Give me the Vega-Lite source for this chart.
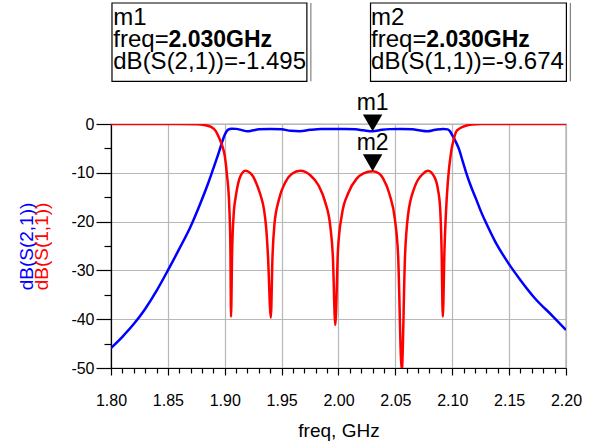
{
  "$schema": "https://vega.github.io/schema/vega-lite/v6.json",
  "width": 455,
  "height": 244,
  "autosize": {"type": "none"},
  "padding": {"left": 111, "top": 124, "right": 26, "bottom": 75},
  "background": "white",
  "config": {
    "font": "Liberation Sans",
    "view": {"stroke": "#555555", "strokeWidth": 1.2},
    "axis": {
      "labelFont": "Liberation Sans",
      "labelFontSize": 16,
      "labelColor": "black",
      "tickColor": "black",
      "domainColor": "black",
      "domainWidth": 1.2,
      "tickWidth": 1.2,
      "gridColor": "#b8b8b8",
      "gridWidth": 1.2,
      "titleFont": "Liberation Sans",
      "titleFontWeight": "normal",
      "titleColor": "black"
    }
  },
  "datasets": {
    "curves": [
      {"f": 1.800, "db": -45.9, "s": "S21"},
      {"f": 1.810, "db": -43.6, "s": "S21"},
      {"f": 1.820, "db": -41.0, "s": "S21"},
      {"f": 1.830, "db": -37.9, "s": "S21"},
      {"f": 1.840, "db": -34.2, "s": "S21"},
      {"f": 1.850, "db": -30.0, "s": "S21"},
      {"f": 1.860, "db": -25.6, "s": "S21"},
      {"f": 1.870, "db": -21.0, "s": "S21"},
      {"f": 1.878, "db": -16.6, "s": "S21"},
      {"f": 1.885, "db": -12.4, "s": "S21"},
      {"f": 1.890, "db": -9.1, "s": "S21"},
      {"f": 1.894, "db": -6.4, "s": "S21"},
      {"f": 1.897, "db": -4.2, "s": "S21"},
      {"f": 1.900, "db": -2.2, "s": "S21"},
      {"f": 1.903, "db": -1.15, "s": "S21"},
      {"f": 1.906, "db": -0.95, "s": "S21"},
      {"f": 1.910, "db": -1.0, "s": "S21"},
      {"f": 1.915, "db": -1.25, "s": "S21"},
      {"f": 1.920, "db": -1.5, "s": "S21"},
      {"f": 1.925, "db": -1.3, "s": "S21"},
      {"f": 1.930, "db": -1.1, "s": "S21"},
      {"f": 1.940, "db": -1.0, "s": "S21"},
      {"f": 1.950, "db": -1.1, "s": "S21"},
      {"f": 1.958, "db": -1.4, "s": "S21"},
      {"f": 1.966, "db": -1.5, "s": "S21"},
      {"f": 1.975, "db": -1.2, "s": "S21"},
      {"f": 1.985, "db": -1.0, "s": "S21"},
      {"f": 1.995, "db": -1.0, "s": "S21"},
      {"f": 2.005, "db": -1.0, "s": "S21"},
      {"f": 2.015, "db": -1.1, "s": "S21"},
      {"f": 2.022, "db": -1.3, "s": "S21"},
      {"f": 2.030, "db": -1.495, "s": "S21"},
      {"f": 2.038, "db": -1.2, "s": "S21"},
      {"f": 2.045, "db": -1.05, "s": "S21"},
      {"f": 2.055, "db": -1.0, "s": "S21"},
      {"f": 2.065, "db": -1.1, "s": "S21"},
      {"f": 2.072, "db": -1.35, "s": "S21"},
      {"f": 2.078, "db": -1.5, "s": "S21"},
      {"f": 2.085, "db": -1.2, "s": "S21"},
      {"f": 2.092, "db": -1.0, "s": "S21"},
      {"f": 2.096, "db": -1.1, "s": "S21"},
      {"f": 2.098, "db": -1.5, "s": "S21"},
      {"f": 2.100, "db": -2.3, "s": "S21"},
      {"f": 2.103, "db": -3.6, "s": "S21"},
      {"f": 2.106, "db": -5.2, "s": "S21"},
      {"f": 2.109, "db": -7.5, "s": "S21"},
      {"f": 2.112, "db": -9.8, "s": "S21"},
      {"f": 2.116, "db": -12.5, "s": "S21"},
      {"f": 2.121, "db": -15.4, "s": "S21"},
      {"f": 2.125, "db": -17.8, "s": "S21"},
      {"f": 2.130, "db": -20.4, "s": "S21"},
      {"f": 2.138, "db": -24.2, "s": "S21"},
      {"f": 2.149, "db": -28.4, "s": "S21"},
      {"f": 2.160, "db": -32.0, "s": "S21"},
      {"f": 2.173, "db": -35.8, "s": "S21"},
      {"f": 2.188, "db": -39.3, "s": "S21"},
      {"f": 2.200, "db": -42.2, "s": "S21"},
      {"f": 1.800, "db": 0, "s": "S11"},
      {"f": 1.860, "db": 0, "s": "S11"},
      {"f": 1.875, "db": -0.05, "s": "S11"},
      {"f": 1.882, "db": -0.2, "s": "S11"},
      {"f": 1.888, "db": -0.6, "s": "S11"},
      {"f": 1.892, "db": -1.4, "s": "S11"},
      {"f": 1.895, "db": -2.8, "s": "S11"},
      {"f": 1.8975, "db": -4.3, "s": "S11"},
      {"f": 1.900, "db": -6.5, "s": "S11"},
      {"f": 1.902, "db": -10.5, "s": "S11"},
      {"f": 1.904, "db": -17, "s": "S11"},
      {"f": 1.905, "db": -26, "s": "S11"},
      {"f": 1.9055, "db": -39.5, "s": "S11"},
      {"f": 1.9065, "db": -26, "s": "S11"},
      {"f": 1.908, "db": -18, "s": "S11"},
      {"f": 1.9096, "db": -15.0, "s": "S11"},
      {"f": 1.9125, "db": -11.5, "s": "S11"},
      {"f": 1.9155, "db": -10.0, "s": "S11"},
      {"f": 1.9183, "db": -9.6, "s": "S11"},
      {"f": 1.9215, "db": -9.9, "s": "S11"},
      {"f": 1.9245, "db": -10.6, "s": "S11"},
      {"f": 1.9285, "db": -12.6, "s": "S11"},
      {"f": 1.9315, "db": -14.6, "s": "S11"},
      {"f": 1.9345, "db": -17.5, "s": "S11"},
      {"f": 1.9365, "db": -21.5, "s": "S11"},
      {"f": 1.938, "db": -27, "s": "S11"},
      {"f": 1.9405, "db": -39.7, "s": "S11"},
      {"f": 1.942, "db": -27, "s": "S11"},
      {"f": 1.9437, "db": -20.5, "s": "S11"},
      {"f": 1.9475, "db": -15.6, "s": "S11"},
      {"f": 1.9533, "db": -11.9, "s": "S11"},
      {"f": 1.9591, "db": -10.2, "s": "S11"},
      {"f": 1.9664, "db": -9.6, "s": "S11"},
      {"f": 1.9752, "db": -10.5, "s": "S11"},
      {"f": 1.9825, "db": -12.6, "s": "S11"},
      {"f": 1.9883, "db": -16.0, "s": "S11"},
      {"f": 1.9927, "db": -20.8, "s": "S11"},
      {"f": 1.9950, "db": -26.9, "s": "S11"},
      {"f": 1.9972, "db": -41.2, "s": "S11"},
      {"f": 1.9995, "db": -26, "s": "S11"},
      {"f": 2.0029, "db": -18.7, "s": "S11"},
      {"f": 2.0087, "db": -14.1, "s": "S11"},
      {"f": 2.016, "db": -11.2, "s": "S11"},
      {"f": 2.022, "db": -10.1, "s": "S11"},
      {"f": 2.030, "db": -9.674, "s": "S11"},
      {"f": 2.036, "db": -10.2, "s": "S11"},
      {"f": 2.0393, "db": -11.2, "s": "S11"},
      {"f": 2.0451, "db": -14.6, "s": "S11"},
      {"f": 2.0495, "db": -19.4, "s": "S11"},
      {"f": 2.0524, "db": -26.9, "s": "S11"},
      {"f": 2.0556, "db": -50.5, "s": "S11"},
      {"f": 2.0585, "db": -26.9, "s": "S11"},
      {"f": 2.0611, "db": -18.7, "s": "S11"},
      {"f": 2.067, "db": -12.9, "s": "S11"},
      {"f": 2.0742, "db": -10.2, "s": "S11"},
      {"f": 2.0786, "db": -9.6, "s": "S11"},
      {"f": 2.0844, "db": -10.9, "s": "S11"},
      {"f": 2.0875, "db": -13.5, "s": "S11"},
      {"f": 2.0893, "db": -17, "s": "S11"},
      {"f": 2.0906, "db": -25.5, "s": "S11"},
      {"f": 2.0917, "db": -39.5, "s": "S11"},
      {"f": 2.0932, "db": -25.5, "s": "S11"},
      {"f": 2.0945, "db": -18, "s": "S11"},
      {"f": 2.0961, "db": -11.9, "s": "S11"},
      {"f": 2.099, "db": -5.7, "s": "S11"},
      {"f": 2.1015, "db": -3.0, "s": "S11"},
      {"f": 2.1034, "db": -1.6, "s": "S11"},
      {"f": 2.106, "db": -1.0, "s": "S11"},
      {"f": 2.1092, "db": -0.6, "s": "S11"},
      {"f": 2.112, "db": -0.35, "s": "S11"},
      {"f": 2.118, "db": -0.1, "s": "S11"},
      {"f": 2.125, "db": 0, "s": "S11"},
      {"f": 2.200, "db": 0, "s": "S11"}
    ],
    "markers": [
      {"f": 2.03, "db": -1.495, "name": "m1"},
      {"f": 2.03, "db": -9.674, "name": "m2"}
    ],
    "boxes": [
      {"f": 1.80087, "f2": 1.97220, "db": 24.8, "db2": 8.75, "fs": 1.97570},
      {"f": 2.02815, "f2": 2.20035, "db": 24.8, "db2": 8.75, "fs": 2.20385}
    ],
    "boxtext": [
      {"f": 1.80200, "db": 20.23, "t": "m1"},
      {"f": 1.80200, "db": 15.78, "t": "freq="},
      {"f": 1.80200, "db": 11.35, "t": "dB(S(2,1))=-1.495"},
      {"f": 2.02866, "db": 20.23, "t": "m2"},
      {"f": 2.02866, "db": 15.78, "t": "freq="},
      {"f": 2.02866, "db": 11.35, "t": "dB(S(1,1))=-9.674"}
    ],
    "boldtext": [
      {"f": 1.85050, "db": 15.78, "t": "2.030GHz"},
      {"f": 2.07716, "db": 15.78, "t": "2.030GHz"}
    ]
  },
  "layer": [
    {
      "data": {"name": "curves"},
      "mark": {"type": "line", "strokeWidth": 2.5, "interpolate": "monotone", "clip": true},
      "encoding": {
        "x": {"field": "f", "type": "quantitative",
              "scale": {"domain": [1.8, 2.2], "nice": false, "zero": false},
              "axis": {"orient": "bottom", "values": [1.8, 1.85, 1.9, 1.95, 2.0, 2.05, 2.1, 2.15, 2.2],
                       "format": ".2f", "tickSize": 7, "labelPadding": 17, "labelFlush": false,
                       "title": "freq, GHz", "titleFontSize": 19, "titlePadding": 13, "grid": true}},
        "y": {"field": "db", "type": "quantitative",
              "scale": {"domain": [-50, 0], "nice": false, "zero": false},
              "axis": {"orient": "left", "values": [-50, -40, -30, -20, -10, 0],
                       "labelExpr": "toString(datum.value)", "tickSize": 15, "labelPadding": 2,
                       "title": "dB(S(2,1))", "titleColor": "#0000ff", "titleFontSize": 19,
                       "titlePadding": 34, "grid": true}},
        "color": {"field": "s", "type": "nominal",
                  "scale": {"domain": ["S21", "S11"], "range": ["#0000ff", "#ff0000"]},
                  "legend": null},
        "order": {"field": "f", "type": "quantitative"}
      }
    },
    {
      "data": {"name": "curves"},
      "mark": {"type": "point", "opacity": 0},
      "encoding": {
        "x": {"field": "f", "type": "quantitative",
              "scale": {"domain": [1.8, 2.2], "nice": false, "zero": false},
              "axis": {"orient": "bottom", "values": [1.81, 1.82, 1.83, 1.84, 1.86, 1.87, 1.88, 1.89, 1.91, 1.92, 1.93, 1.94, 1.96, 1.97, 1.98, 1.99, 2.01, 2.02, 2.03, 2.04, 2.06, 2.07, 2.08, 2.09, 2.11, 2.12, 2.13, 2.14, 2.16, 2.17, 2.18, 2.19],
                       "labels": false, "domain": false, "grid": false, "tickSize": 5, "title": null}},
        "y": {"field": "db", "type": "quantitative",
              "scale": {"domain": [-50, 0], "nice": false, "zero": false},
              "axis": {"orient": "left", "values": [-45, -35, -25, -15, -5],
                       "labels": false, "domain": false, "grid": false, "tickSize": 7,
                       "title": "dB(S(1,1))", "titleColor": "#ff0000", "titleFontSize": 19,
                       "titlePadding": 52}}
      }
    },
    {
      "data": {"name": "boxes"},
      "mark": {"type": "rule", "color": "#808080", "strokeWidth": 1.2},
      "encoding": {
        "x": {"field": "fs", "type": "quantitative", "scale": {"domain": [1.8, 2.2], "nice": false, "zero": false}, "axis": null},
        "y": {"field": "db", "type": "quantitative", "scale": {"domain": [-50, 0], "nice": false, "zero": false}, "axis": null},
        "y2": {"field": "db2"}
      }
    },
    {
      "data": {"name": "boxes"},
      "mark": {"type": "rect", "fill": "white", "stroke": "black", "strokeWidth": 1.2},
      "encoding": {
        "x": {"field": "f", "type": "quantitative", "scale": {"domain": [1.8, 2.2], "nice": false, "zero": false}, "axis": null},
        "x2": {"field": "f2"},
        "y": {"field": "db", "type": "quantitative", "scale": {"domain": [-50, 0], "nice": false, "zero": false}, "axis": null},
        "y2": {"field": "db2"}
      }
    },
    {
      "data": {"name": "boxtext"},
      "mark": {"type": "text", "align": "left", "baseline": "alphabetic", "fontSize": 24, "font": "Liberation Sans", "color": "black"},
      "encoding": {
        "x": {"field": "f", "type": "quantitative", "scale": {"domain": [1.8, 2.2], "nice": false, "zero": false}, "axis": null},
        "y": {"field": "db", "type": "quantitative", "scale": {"domain": [-50, 0], "nice": false, "zero": false}, "axis": null},
        "text": {"field": "t"}
      }
    },
    {
      "data": {"name": "boldtext"},
      "mark": {"type": "text", "align": "left", "baseline": "alphabetic", "fontSize": 23, "fontWeight": "bold", "font": "Liberation Sans", "color": "black"},
      "encoding": {
        "x": {"field": "f", "type": "quantitative", "scale": {"domain": [1.8, 2.2], "nice": false, "zero": false}, "axis": null},
        "y": {"field": "db", "type": "quantitative", "scale": {"domain": [-50, 0], "nice": false, "zero": false}, "axis": null},
        "text": {"field": "t"}
      }
    },
    {
      "data": {"name": "markers"},
      "mark": {"type": "point", "shape": "triangle-down", "size": 380, "filled": true, "color": "black", "opacity": 1, "yOffset": -8.4},
      "encoding": {
        "x": {"field": "f", "type": "quantitative", "scale": {"domain": [1.8, 2.2], "nice": false, "zero": false}, "axis": null},
        "y": {"field": "db", "type": "quantitative", "scale": {"domain": [-50, 0], "nice": false, "zero": false}, "axis": null}
      }
    },
    {
      "data": {"name": "markers"},
      "mark": {"type": "text", "align": "center", "baseline": "alphabetic", "fontSize": 23, "font": "Liberation Sans", "color": "black", "dy": -21},
      "encoding": {
        "x": {"field": "f", "type": "quantitative", "scale": {"domain": [1.8, 2.2], "nice": false, "zero": false}, "axis": null},
        "y": {"field": "db", "type": "quantitative", "scale": {"domain": [-50, 0], "nice": false, "zero": false}, "axis": null},
        "text": {"field": "name"}
      }
    }
  ],
  "resolve": {"axis": {"x": "independent", "y": "independent"}}
}
